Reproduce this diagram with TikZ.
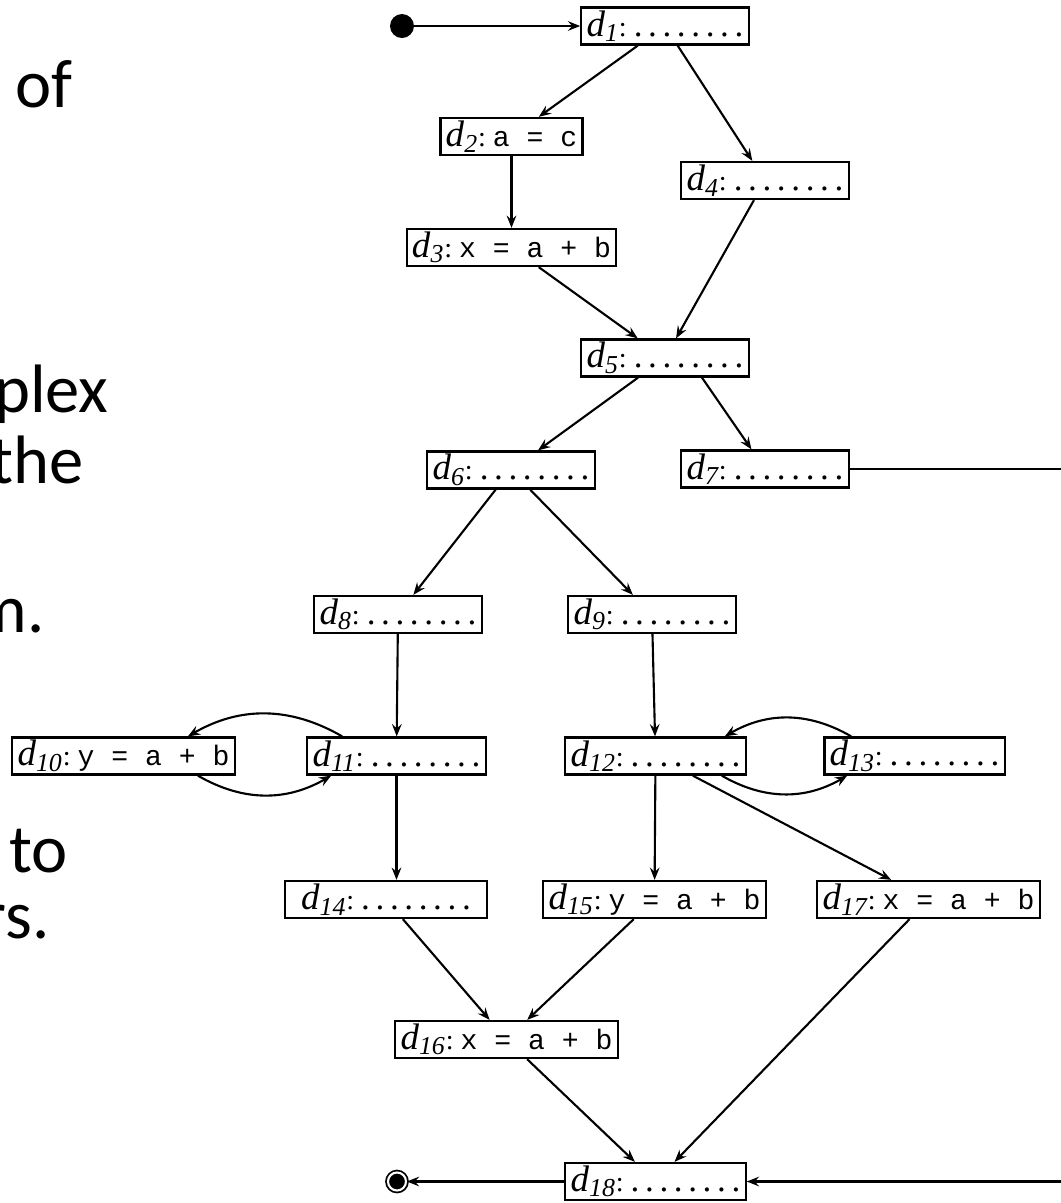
\documentclass[tikz,border=0pt]{standalone}
\usepackage{fontspec}
\setmainfont{Liberation Serif}
\setmonofont{Liberation Mono}
\newfontfamily\slidefont{Carlito}
\usepackage{tikz}
\usetikzlibrary{arrows.meta}

% label of a definition: d_n:
\newcommand{\dl}[1]{{\fontsize{21}{22}\selectfont\textit{d}\textsubscript{\itshape #1}}:\ }
% unspecified statement
\newcommand{\dt}{.\kern3.2pt}
\newcommand{\blank}{{\fontsize{20}{20}\selectfont\dt\dt\dt\dt\dt\dt\dt.}\hspace{6pt}}

\begin{document}
\begin{tikzpicture}
    \tikzset{defbox/.style = {shape=rectangle,draw,line width=1.3pt,minimum height=0.74cm,
        inner xsep=3pt,inner ysep=0pt,font=\fontsize{16}{18}\selectfont}}
    \tikzset{edge/.style = {-{Stealth[length=7pt,width=5.5pt,inset=2.5pt]},line width=1.2pt}}
    \tikzset{slide/.style = {anchor=base east,inner sep=0pt,font=\slidefont\fontsize{39}{46}\selectfont}}
    \useasboundingbox (0,0) rectangle (21.22,-24.06);
    \clip (0,0) rectangle (21.22,-24.06);
    % slide text
    \node[slide] (t1) at (1.46,-2.14) {of};
    \node[slide] (t2) at (2.18,-8.24) {plex};
    \node[slide] (t3) at (1.68,-9.66) {the};
    \node[slide] (t4) at (0.90,-12.64) {m.};
    \node[slide] (t5) at (1.36,-17.44) {r to};
    \node[slide] (t6) at (1.00,-18.76) {rs.};
    % vertices
    \node[circle,fill,minimum size=0.48cm,inner sep=0pt] (start) at (8.04,-0.52) {};
    \node[circle,fill,draw,line width=1pt,double=white,double distance=1.2pt,
        minimum size=0.36cm,inner sep=0pt] (stop) at (7.94,-23.63) {};
    \node[defbox] (D1) at (13.30,-0.52) {\dl{1}\blank};
    \node[defbox] (D2) at (10.23,-2.73) {\dl{2}\texttt{a = c}};
    \node[defbox] (D3) at (10.23,-4.95) {\dl{3}\texttt{x = a + b}};
    \node[defbox] (D4) at (15.30,-3.61) {\dl{4}\blank};
    \node[defbox] (D5) at (13.30,-7.16) {\dl{5}\blank};
    \node[defbox] (D6) at (10.22,-9.40) {\dl{6}\blank};
    \node[defbox] (D7) at (15.30,-9.38) {\dl{7}\blank};
    \node[defbox] (D8) at (7.96,-12.29) {\dl{8}\blank};
    \node[defbox] (D9) at (13.04,-12.29) {\dl{9}\blank};
    \node[defbox] (D10) at (2.47,-15.12) {\dl{10}\texttt{y = a + b}};
    \node[defbox] (D11) at (7.93,-15.12) {\dl{11}\blank};
    \node[defbox] (D12) at (13.11,-15.12) {\dl{12}\blank};
    \node[defbox] (D13) at (18.29,-15.12) {\dl{13}\blank};
    \node[defbox,minimum width=4.04cm] (D14) at (7.72,-17.99) {\dl{14}\blank};
    \node[defbox] (D15) at (13.09,-17.99) {\dl{15}\texttt{y = a + b}};
    \node[defbox] (D17) at (18.57,-17.99) {\dl{17}\texttt{x = a + b}};
    \node[defbox,minimum width=4.42cm] (D16) at (10.13,-20.79) {\dl{16}\texttt{x = a + b}};
    \node[defbox] (D18) at (13.11,-23.63) {\dl{18}\blank};
    \coordinate (exit) at (21.3,-9.38);
    \coordinate (entry) at (21.3,-23.63);
    % edges
    \draw[edge] (start) to (D1);
    \draw[edge] (D1) to (D2);
    \draw[edge] (D1) to (D4);
    \draw[edge] (D2) to (D3);
    \draw[edge] (D3) to (D5);
    \draw[edge] (D4) to (D5);
    \draw[edge] (D5) to (D6);
    \draw[edge] ([xshift=0.74cm]D5.south) to (D7);
    \draw[line width=1.2pt] (D7) to (exit);
    \draw[edge] (D6) to (D8);
    \draw[edge] (D6) to (D9);
    \draw[edge] (D8) to (D11);
    \draw[edge] (D9) to (D12);
    \draw[edge] ([xshift=0.72cm]D11.north west) to[bend right=30] ([xshift=-0.96cm]D10.north east);
    \draw[edge] ([xshift=-0.76cm]D10.south east) to[bend right=30] ([xshift=0.5cm]D11.south west);
    \draw[edge] ([xshift=0.56cm]D13.north west) to[bend right=30] ([xshift=-0.44cm]D12.north east);
    \draw[edge] ([xshift=-0.5cm]D12.south east) to[bend right=30] ([xshift=0.48cm]D13.south west);
    \draw[edge] (D11) to (D11 |- D14.north);
    \draw[edge] (D12) to (D15);
    \draw[edge] (D12) to (D17);
    \draw[edge] (D14) to (D16);
    \draw[edge] (D15) to (D16);
    \draw[edge] (D16) to (D18);
    \draw[edge] (D17) to (D18);
    \draw[edge] (entry) to (D18);
    \draw[edge] (D18) to (stop);
\end{tikzpicture}
\end{document}
